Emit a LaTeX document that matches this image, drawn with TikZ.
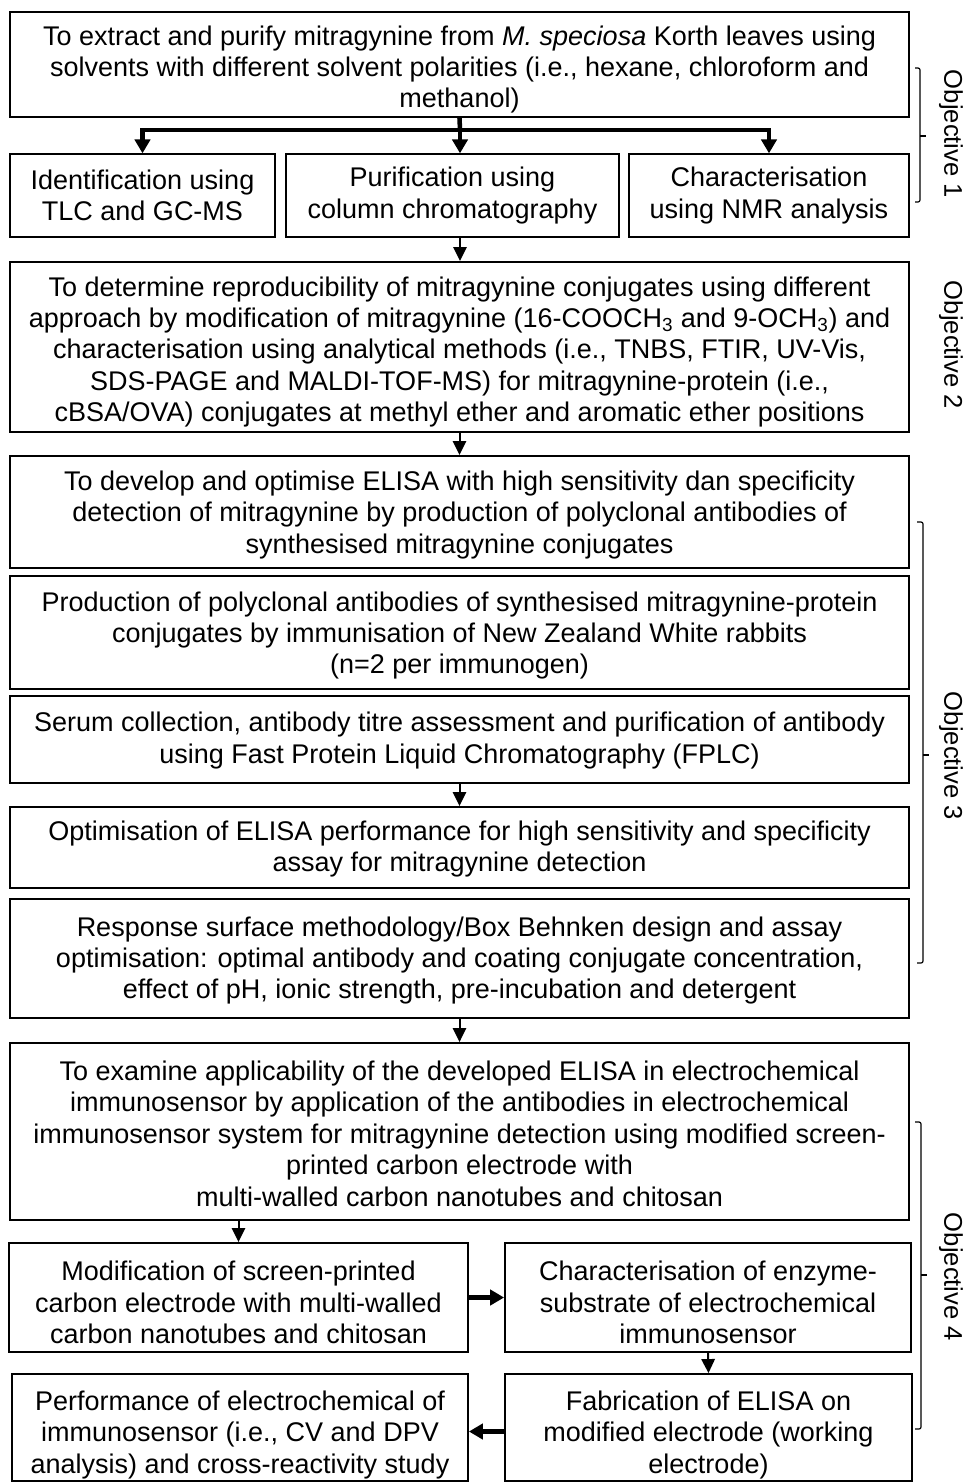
\documentclass[tikz,border=0pt]{standalone}
\usepackage{fontspec}
\setmainfont{Liberation Sans}
\usetikzlibrary{arrows.meta}
\begin{document}
\begin{tikzpicture}[x=0.75pt,y=-0.75pt,
  every node/.style={font=\fontsize{20.25pt}{23.6pt}\selectfont},
  corners/.style args={#1/#2/#3/#4}{minimum width={(#3-#1)*0.75pt}, minimum height={(#4-#2)*0.75pt}, at={({(#1+#3)/2},{(#2+#4)/2})}},
  mainbox/.style={draw, line width=1.4pt, inner sep=0pt},
  subbox/.style={draw, line width=1.0pt, inner sep=0pt},
  tx/.style={align=center, inner sep=0pt},
  arr/.style={line width=1.5pt, -{Triangle[length=10.5pt,width=10pt]}},
  tarr/.style={line width=3.4pt, -{Triangle[length=10.5pt,width=11.5pt]}},
  thk/.style={line width=3.4pt},
  brace/.style={line width=0.9pt, rounded corners=1.5pt},
  objlbl/.style={rotate=-90, font=\fontsize{19.2pt}{23pt}\selectfont}]
\useasboundingbox[fill=white] (0,0) rectangle (969,1482);

% Objective 1
\node[mainbox, corners=10/12/909/117] (b1) {};
\node[tx] (t1) at ([yshift=-3.75pt]b1.center) {To extract and purify mitragynine from \textit{M. speciosa} Korth leaves using\\ solvents with different solvent polarities (i.e., hexane, chloroform and\\ methanol)};
\node[subbox, corners=10/154/275/237] (rA) {};
\node[tx] (tA) at (rA.center) {Identification using\\TLC and GC-MS};
\node[subbox, corners=286/154/619/237] (rB) {};
\node[tx] (tB) at (rB.center) {Purification using\\column chromatography};
\node[subbox, corners=629/154/909/237] (rC) {};
\node[tx] (tC) at (rC.center) {Characterisation\\using NMR analysis};
\coordinate (bar) at (460,130);
\draw[thk] (b1.south) -- (bar);
\draw[tarr] (bar) -| (rA.north);
\draw[tarr] (bar) -- (bar |- rB.north);
\draw[tarr] (bar) -| (rC.north);

% Objective 2
\node[mainbox, corners=10/262/909/432] (b3) {};
\node[tx] (t3) at ([yshift=-3.75pt]b3.center) {To determine reproducibility of mitragynine conjugates using different\\approach by modification of mitragynine (16-COOCH\textsubscript{3} and 9-OCH\textsubscript{3}) and\\characterisation using analytical methods (i.e., TNBS, FTIR, UV-Vis,\\SDS-PAGE and MALDI-TOF-MS) for mitragynine-protein (i.e.,\\cBSA/OVA) conjugates at methyl ether and aromatic ether positions};
\draw[arr] (rB.south -| bar) -- (b3.north -| bar);

% Objective 3
\node[mainbox, corners=10/456/909/568] (b4) {};
\node[tx] (t4) at ([yshift=-2.25pt]b4.center) {To develop and optimise ELISA with high sensitivity dan specificity\\detection of mitragynine by production of polyclonal antibodies of\\synthesised mitragynine conjugates};
\node[mainbox, corners=10/576/909/689] (b5) {};
\node[tx] (t5) at ([yshift=-2.25pt]b5.center) {Production of polyclonal antibodies of synthesised mitragynine-protein\\conjugates by immunisation of New Zealand White rabbits\\(n=2 per immunogen)};
\node[mainbox, corners=10/696/909/783] (b6) {};
\node[tx] (t6) at ([yshift=-0.75pt]b6.center) {Serum collection, antibody titre assessment and purification of antibody\\using Fast Protein Liquid Chromatography (FPLC)};
\node[mainbox, corners=10/807/909/888] (b7) {};
\node[tx] (t7) at ([yshift=-1.1pt]b7.center) {Optimisation of ELISA performance for high sensitivity and specificity\\assay for mitragynine detection};
\node[mainbox, corners=10/899/909/1018] (b8) {};
\node[tx] (t8) at ([yshift=-1.5pt]b8.center) {Response surface methodology/Box Behnken design and assay\\optimisation: optimal antibody and coating conjugate concentration,\\effect of pH, ionic strength, pre-incubation and detergent};
\draw[arr] (b3.south) -- (b4.north);
\draw[arr] (b6.south) -- (b7.north);

% Objective 4
\node[mainbox, corners=10/1043/909/1220] (b9) {};
\node[tx] (t9) at ([yshift=-1.5pt]b9.center) {To examine applicability of the developed ELISA in electrochemical\\immunosensor by application of the antibodies in electrochemical\\immunosensor system for mitragynine detection using modified screen-\\printed carbon electrode with\\multi-walled carbon nanotubes and chitosan};
\draw[arr] (b8.south) -- (b9.north);
\node[mainbox, corners=9/1243/468/1352] (m1) {};
\node[tx] (tm1) at ([yshift=-3.75pt]m1.center) {Modification of screen-printed\\carbon electrode with multi-walled\\carbon nanotubes and chitosan};
\node[mainbox, corners=505/1243/911/1352] (m2) {};
\node[tx] (tm2) at ([yshift=-3.75pt]m2.center) {Characterisation of enzyme-\\substrate of electrochemical\\immunosensor};
\node[mainbox, corners=12/1374/468/1481] (p1) {};
\node[tx] (tp1) at ([yshift=-5.5pt]p1.center) {Performance of electrochemical of\\immunosensor (i.e., CV and DPV\\analysis) and cross-reactivity study};
\node[mainbox, corners=505/1374/912/1481] (f1) {};
\node[tx] (tf1) at ([yshift=-5.5pt]f1.center) {Fabrication of ELISA on\\modified electrode (working\\electrode)};
\draw[arr] (b9.south -| m1.north) -- (m1.north);
\draw[tarr] (m1.east) -- (m2.west);
\draw[arr] (m2.south) -- (f1.north);
\draw[tarr] ([yshift=-3pt]f1.west) -- ([yshift=-3pt]f1.west -| p1.east);

% Brackets and labels
\draw[brace] (915,68) -- (920,68) -- (920,202) -- (915,202);
\draw[brace] (920,136) -- (926,136);
\node[objlbl] (o1) at (951,134) {Objective 1};
\node[objlbl] (o2) at (951,345) {Objective 2};
\draw[brace] (917,522) -- (923,522) -- (923,963) -- (917,963);
\draw[brace] (923,755) -- (929,755);
\node[objlbl] (o3) at (951,756) {Objective 3};
\draw[brace] (915,1122) -- (921,1122) -- (921,1429) -- (915,1429);
\draw[brace] (921,1275) -- (927,1275);
\node[objlbl] (o4) at (951,1277) {Objective 4};
\end{tikzpicture}
\end{document}
